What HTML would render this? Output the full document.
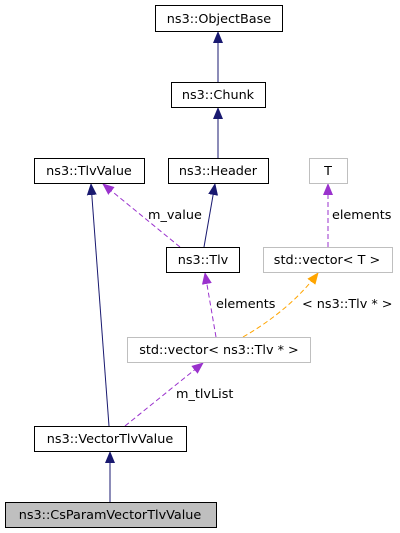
<!DOCTYPE html>
<html><head><meta charset="utf-8"><style>
html,body{margin:0;padding:0;background:#fff;}
svg{display:block;}
text{font-family:"DejaVu Sans","Liberation Sans",sans-serif;font-size:12.8px;fill:#000;}
</style></head><body>
<svg width="400" height="533" viewBox="0 0 400 533" xmlns="http://www.w3.org/2000/svg">
<defs>
<marker id="an" markerWidth="12" markerHeight="12" refX="11" refY="6" orient="auto" markerUnits="userSpaceOnUse"><path d="M0,1 L12,6 L0,11z" fill="#191970"/></marker>
<marker id="ap" markerWidth="12" markerHeight="12" refX="11" refY="6" orient="auto" markerUnits="userSpaceOnUse"><path d="M0,1 L12,6 L0,11z" fill="#9a32cd"/></marker>
<marker id="ao" markerWidth="12" markerHeight="12" refX="11" refY="6" orient="auto" markerUnits="userSpaceOnUse"><path d="M0,1 L12,6 L0,11z" fill="#ffa500"/></marker>
</defs>
<g fill="none" stroke-width="1">
<line x1="218" y1="82" x2="218" y2="32" stroke="#191970" marker-end="url(#an)"/>
<line x1="218" y1="158" x2="218" y2="108" stroke="#191970" marker-end="url(#an)"/>
<line x1="204" y1="247" x2="215" y2="184" stroke="#191970" marker-end="url(#an)"/>
<line x1="109" y1="426" x2="91" y2="184" stroke="#191970" marker-end="url(#an)"/>
<line x1="110" y1="502" x2="110" y2="452" stroke="#191970" marker-end="url(#an)"/>
<line x1="180" y1="247" x2="103" y2="184" stroke="#9a32cd" stroke-dasharray="5,3" marker-end="url(#ap)"/>
<line x1="328" y1="247" x2="328" y2="184" stroke="#9a32cd" stroke-dasharray="5,3" marker-end="url(#ap)"/>
<line x1="216" y1="337" x2="205" y2="273" stroke="#9a32cd" stroke-dasharray="5,3" marker-end="url(#ap)"/>
<path d="M243,337 Q290,310 318,273" stroke="#ffa500" stroke-dasharray="5,3" marker-end="url(#ao)"/>
<line x1="125" y1="426" x2="203" y2="363" stroke="#9a32cd" stroke-dasharray="5,3" marker-end="url(#ap)"/>
</g>
<g stroke-width="1">
<rect x="155.5" y="5.5" width="127" height="26" fill="#fff" stroke="#000"/>
<rect x="171.5" y="82.5" width="94" height="25" fill="#fff" stroke="#000"/>
<rect x="34.5" y="158.5" width="110" height="25" fill="#fff" stroke="#000"/>
<rect x="168.5" y="158.5" width="100" height="25" fill="#fff" stroke="#000"/>
<rect x="309.5" y="158.5" width="38" height="25" fill="#fff" stroke="#bfbfbf"/>
<rect x="166.5" y="247.5" width="73" height="25" fill="#fff" stroke="#000"/>
<rect x="263.5" y="247.5" width="129" height="25" fill="#fff" stroke="#bfbfbf"/>
<rect x="127.5" y="337.5" width="183" height="25" fill="#fff" stroke="#bfbfbf"/>
<rect x="34.5" y="426.5" width="152" height="25" fill="#fff" stroke="#000"/>
<rect x="5.5" y="502.5" width="211" height="25" fill="#bfbfbf" stroke="#000"/>
</g>
<g text-anchor="middle">
<text x="219" y="23">ns3::ObjectBase</text>
<text x="218" y="99">ns3::Chunk</text>
<text x="89" y="175">ns3::TlvValue</text>
<text x="218" y="175">ns3::Header</text>
<text x="328" y="175">T</text>
<text x="203" y="264">ns3::Tlv</text>
<text x="327" y="264">std::vector&lt; T &gt;</text>
<text x="219" y="354">std::vector&lt; ns3::Tlv * &gt;</text>
<text x="110" y="443">ns3::VectorTlvValue</text>
<text x="110" y="519">ns3::CsParamVectorTlvValue</text>
</g>
<text x="148" y="219">m_value</text>
<text x="332" y="219">elements</text>
<text x="216" y="308">elements</text>
<text x="302" y="308">&lt; ns3::Tlv * &gt;</text>
<text x="176" y="398">m_tlvList</text>
</svg>
</body></html>
